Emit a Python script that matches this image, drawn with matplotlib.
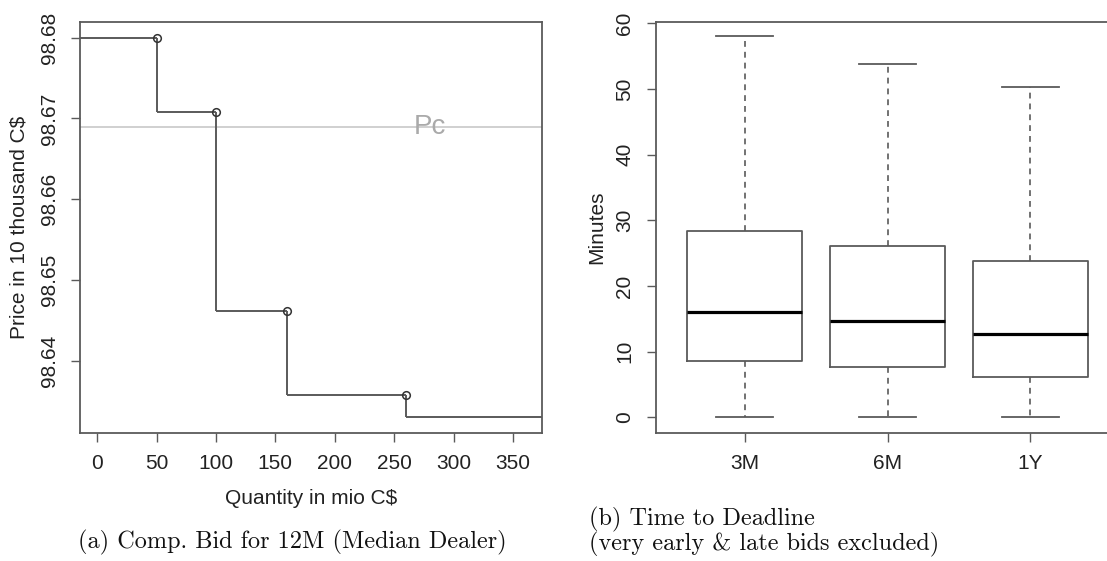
import matplotlib
matplotlib.use("Agg")
import matplotlib.pyplot as plt

# left panel: competitive bid of the median dealer (12M)
quantities = [50, 100, 160, 260]
prices = [98.6800, 98.6708, 98.6461, 98.6358]
last_price = 98.6330
pc_price = 98.6689
x_ticks = [0, 50, 100, 150, 200, 250, 300, 350]
y_ticks = [98.64, 98.65, 98.66, 98.67, 98.68]

# right panel: time to deadline boxplots
maturities = ["3M", "6M", "1Y"]
whisk_lo = [0.0, 0.0, 0.0]
q1 = [8.6, 7.7, 6.1]
median = [16.1, 14.7, 12.7]
q3 = [28.3, 26.1, 23.8]
whisk_hi = [58.0, 53.8, 50.3]
min_ticks = [0, 10, 20, 30, 40, 50, 60]

plt.rcParams['font.family'] = ['Liberation Sans', 'DejaVu Sans']
gray = "#5a5a5a"
txt = "#222222"

fig = plt.figure(figsize=(11.07, 5.61), dpi=100)

# ---- left
ax = fig.add_axes([0.0723, 0.2287, 0.4173, 0.7326])
xl = (-14.4, 374.4)
ax.set_xlim(*xl)
ax.set_ylim(98.63108, 98.68198)
ax.axhline(pc_price, color="#c8c8c8", lw=1.2, zorder=1)
ax.text(280, pc_price, "Pc", color="#aaaaaa", fontsize=20, va="center", ha="center", zorder=2)
levels = prices + [last_price]
starts = [xl[0]] + quantities
ends = quantities + [xl[1]]
ax.hlines(levels, starts, ends, color=gray, lw=1.4, zorder=3)
ax.vlines(quantities, levels[1:], levels[:-1], color=gray, lw=1.4, zorder=3)
ax.plot(quantities, prices, "o", mfc="none", mec="#333333", ms=5.5, mew=1.1, zorder=4)
ax.set_xticks(x_ticks)
ax.set_yticks(y_ticks)
ax.set_yticklabels(["%.2f" % v for v in y_ticks], rotation=90, va="center")
ax.set_xlabel("Quantity in mio C$", fontsize=15, color=txt, labelpad=11)
ax.set_ylabel("Price in 10 thousand C$", fontsize=15, color=txt, labelpad=8)

# ---- right
ax2 = fig.add_axes([0.5926, 0.2287, 0.4183, 0.7326])
stats = []
for i in range(len(maturities)):
    stats.append(dict(whislo=whisk_lo[i], q1=q1[i], med=median[i], q3=q3[i], whishi=whisk_hi[i],
                      label=maturities[i]))
ax2.bxp(stats, positions=[1, 2, 3], widths=0.8, showfliers=False,
        boxprops=dict(color=gray, lw=1.3),
        medianprops=dict(color="black", lw=2.3),
        whiskerprops=dict(color=gray, lw=1.2, ls=(0, (3.5, 3))),
        capprops=dict(color=gray, lw=1.3), capwidths=0.4)
ax2.set_xlim(0.38, 3.62)
ax2.set_ylim(-2.35, 60.24)
ax2.set_yticks(min_ticks)
ax2.set_yticklabels([str(v) for v in min_ticks], rotation=90, va="center")
ax2.set_ylabel("Minutes", fontsize=15, color=txt, labelpad=7)
ax2.spines["right"].set_visible(False)

for a in (ax, ax2):
    for s in a.spines.values():
        s.set_color(gray)
        s.set_linewidth(1.3)
    a.tick_params(direction="out", length=6.5, width=1, color=gray, labelsize=15,
                  labelcolor=txt, pad=9)

# captions
fig.text(0.2638, 0.023, "(a) Comp. Bid for 12M (Median Dealer)", family="cmr10", fontsize=17.5,
         ha="center", va="baseline", color="#111111")
fig.text(0.532, 0.0642, "(b) Time to Deadline", family="cmr10", fontsize=17.5,
         ha="left", va="baseline", color="#111111")
fig.text(0.532, 0.0196, "(very early & late bids excluded)", family="cmr10", fontsize=17.5,
         ha="left", va="baseline", color="#111111")

fig.savefig("out.png", dpi=100)
